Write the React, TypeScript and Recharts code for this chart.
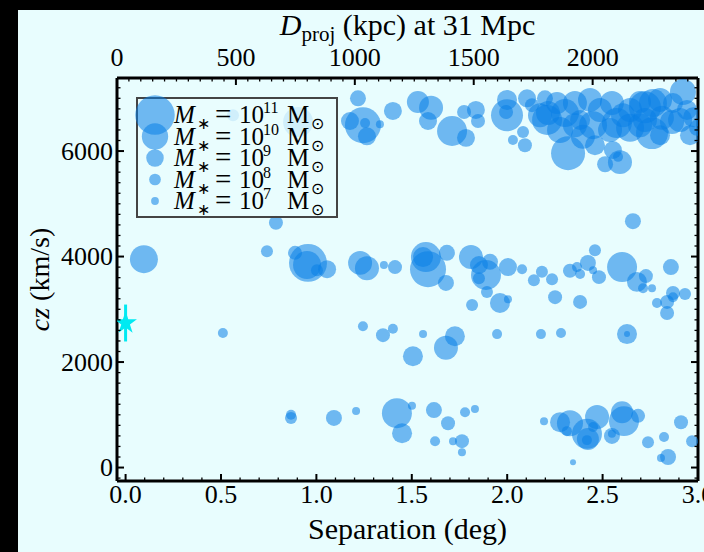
import React from 'react';
import { ScatterChart, Scatter, XAxis, YAxis, ErrorBar, ReferenceLine, Legend, Symbols } from 'recharts';

// [separation (deg), cz (km/s), log10 stellar mass]
const GROUP_7000 = [
  [0.563, 6680, 8.06], [0.904, 6550, 10.32], [1.218, 7000, 8.77], [1.244, 6490, 10.77], [1.176, 6570, 9.06],
  [1.255, 6530, 7.61], [1.265, 6280, 9.06], [1.333, 6510, 7.06], [1.401, 6760, 9.06], [1.532, 6930, 9.56],
  [1.601, 6820, 9.77], [1.585, 6570, 9.06], [1.711, 6380, 10.32], [1.784, 6250, 9.06], [1.774, 6740, 8.44],
  [1.836, 6780, 9.06], [1.847, 6570, 8.44], [1.999, 6970, 9.32], [1.999, 6680, 10.48], [1.994, 6740, 8.44],
  [2.104, 7000, 9.06], [2.130, 6870, 8.44], [2.198, 7000, 8.77], [2.030, 6210, 7.61], [2.083, 6360, 8.06],
  [2.093, 6110, 8.44], [2.209, 6590, 10.32], [2.214, 6720, 9.77], [2.261, 6910, 9.56], [2.303, 6720, 10.15],
  [2.355, 6910, 9.77], [2.319, 5960, 10.63], [2.397, 6270, 9.77], [2.450, 6490, 10.15], [2.460, 6110, 9.32],
  [2.486, 6780, 9.77], [2.549, 6910, 9.77], [2.575, 6530, 10.32], [2.607, 6680, 9.77], [2.554, 6020, 9.06],
  [2.513, 5750, 8.77], [2.591, 5790, 9.77], [2.581, 5890, 7.61], [2.696, 6930, 9.56], [2.722, 6830, 10.48],
  [2.764, 6910, 10.15], [2.759, 6340, 10.48], [2.696, 6490, 9.77], [2.811, 6630, 9.77], [2.864, 6550, 9.77],
  [2.921, 7120, 9.97], [2.942, 6780, 9.32], [2.974, 6640, 9.32], [2.869, 6910, 9.32], [2.277, 6400, 9.97],
  [2.644, 6440, 10.15], [2.382, 6590, 9.32], [2.801, 6300, 9.32], [2.995, 6440, 8.77],
  [2.172, 6680, 9.77], [2.434, 6970, 9.77], [2.644, 6780, 9.77], [2.801, 6970, 9.77], [2.958, 6300, 9.32],
  [2.355, 6490, 9.77], [2.539, 6400, 9.77], [2.722, 6590, 9.77], [2.906, 6590, 9.77],
];

const GROUP_4000 = [
  [2.659, 4670, 8.77], [0.788, 4640, 8.44],
  [0.096, 3950, 10.15], [0.741, 4100, 8.06], [0.888, 4070, 8.44], [0.956, 3880, 10.90], [0.951, 3840, 10.15],
  [1.003, 3740, 8.06], [1.056, 3760, 9.06], [1.229, 3880, 9.77], [1.265, 3780, 9.77], [1.354, 3840, 7.06],
  [1.412, 3800, 8.44], [1.574, 3990, 10.32], [1.585, 3760, 10.77], [1.559, 3990, 9.32], [1.684, 4070, 8.77],
  [1.679, 3500, 8.77], [1.810, 3990, 9.77], [1.852, 3840, 9.06], [1.889, 3650, 10.32], [1.910, 3900, 8.77],
  [1.852, 3590, 8.06], [2.004, 3800, 9.06], [2.078, 3760, 7.61], [1.894, 3330, 8.06], [1.816, 3080, 8.06],
  [1.962, 3120, 9.32], [2.004, 3190, 7.06], [2.140, 3550, 8.06], [2.182, 3710, 8.06], [2.235, 3570, 8.06],
  [2.251, 3230, 8.44], [2.329, 3730, 8.44], [2.366, 3800, 7.61], [2.382, 3670, 7.61], [2.423, 3880, 8.77],
  [2.460, 4120, 8.06], [2.450, 3740, 7.06], [2.481, 3610, 8.44], [2.382, 3140, 8.44], [2.602, 3800, 10.32],
  [2.680, 3520, 9.32], [2.727, 3630, 8.44], [2.712, 3400, 7.61], [2.759, 3400, 7.06], [2.858, 3800, 8.77],
  [2.785, 3120, 7.61], [2.838, 3140, 8.44], [2.869, 3310, 8.44], [2.869, 3230, 7.61], [2.838, 2930, 8.44],
  [2.932, 3290, 8.06],
];

const GROUP_2500 = [
  [0.510, 2550, 7.61], [1.244, 2680, 7.61], [1.349, 2510, 8.44], [1.401, 2630, 7.61], [1.559, 2530, 7.06],
  [1.726, 2490, 9.32], [1.679, 2270, 9.77], [1.506, 2110, 9.32], [1.947, 2530, 7.61], [2.177, 2530, 7.61],
  [2.282, 2550, 7.61], [2.628, 2530, 9.32], [2.628, 2530, 6.35],
];

const GROUP_800 = [
  [0.867, 940, 8.06], [0.867, 1000, 7.61], [1.092, 940, 8.77], [1.208, 1070, 7.06], [1.422, 1030, 10.32],
  [1.449, 650, 9.32], [1.501, 1170, 7.06], [1.616, 1090, 8.77], [1.690, 840, 8.44], [1.622, 500, 7.61],
  [1.716, 500, 7.06], [1.763, 500, 8.44], [1.763, 290, 7.06], [1.779, 1050, 7.61], [1.831, 1110, 7.06],
  [2.193, 880, 7.06], [2.277, 860, 9.32], [2.329, 840, 9.97], [2.313, 690, 7.61], [2.418, 640, 10.32],
  [2.423, 540, 9.56], [2.450, 770, 7.61], [2.471, 960, 9.77], [2.418, 520, 7.61], [2.549, 600, 8.77],
  [2.549, 640, 7.06], [2.602, 1050, 9.56], [2.612, 880, 10.32], [2.686, 980, 8.44], [2.738, 480, 8.06],
  [2.822, 580, 7.61], [2.843, 200, 8.77], [2.806, 180, 7.06], [2.911, 860, 8.44], [2.969, 500, 8.06],
  [2.345, 100, 6.35],
];

// the target galaxy
const TARGET_SEP = [0];
const TARGET_CZ = [2740];
const TARGET_CZ_ERR = [350];

const LEGEND_LOG_MASS = [11, 10, 9, 8, 7];

const SEP_MAJOR = [0, 0.5, 1, 1.5, 2, 2.5, 3];
const CZ_MAJOR = [0, 2000, 4000, 6000];
const KPC_MAJOR = [0, 500, 1000, 1500, 2000];

const SEP_TICKS = Array.from({ length: 31 }, (_, i) => i / 10);
const CZ_TICKS = Array.from({ length: 38 }, (_, i) => -200 + i * 200);
const KPC_TICKS = Array.from({ length: 49 }, (_, i) => i * 50);

const X_DOMAIN = [-0.045, 3.0];
const Y_DOMAIN = [-255, 7385];

// top axis: projected distance, zero sits at the left edge of the frame
const KPC_PER_DEG = 802.3;
const kpcToDeg = (kpc: number) => X_DOMAIN[0] + kpc / KPC_PER_DEG;
const degToKpc = (deg: number) => Math.round((deg - X_DOMAIN[0]) * KPC_PER_DEG);
const TOP_TICKS = KPC_TICKS.map(kpcToDeg);

const PLOT_RIGHT = 698;
const BG = '#e8fdfe';
const BUBBLE = '#0a80e6';
const STAR = '#00eaf2';
const FONT = "'Liberation Serif', 'Times New Roman', serif";

const bubbleRadius = (logM: number) => 3.9 * Math.pow(1.5, logM - 7);

const galaxies = [...GROUP_7000, ...GROUP_4000, ...GROUP_2500, ...GROUP_800].map(([sep, cz, logM]) => ({ sep, cz, logM }));
const target = TARGET_SEP.map((sep, i) => ({ sep, cz: TARGET_CZ[i], err: TARGET_CZ_ERR[i] }));

const isMajor = (v: number, list: number[]) => list.some((m) => Math.abs(m - v) < 1e-6);

const Bubble = (props: any) => (
  <circle cx={props.cx} cy={props.cy} r={bubbleRadius(props.payload.logM)} fill={BUBBLE} fillOpacity={0.55} />
);

const TargetStar = (props: any) => <Symbols cx={props.cx} cy={props.cy} type="star" size={160} fill={STAR} />;

const LeftTick = ({ x, y, payload }: any) => {
  const major = isMajor(payload.value, CZ_MAJOR);
  const len = major ? 7 : 3.5;
  return (
    <g>
      <line x1={x} y1={y} x2={x + len} y2={y} stroke="#000" strokeWidth={major ? 2 : 1.3} />
      <line x1={PLOT_RIGHT - len} y1={y} x2={PLOT_RIGHT} y2={y} stroke="#000" strokeWidth={major ? 2 : 1.3} />
      {major && (
        <text x={x - 4} y={y} textAnchor="end" dominantBaseline="central" fontFamily={FONT} fontSize={26} fill="#000">
          {payload.value}
        </text>
      )}
    </g>
  );
};

const BottomTick = ({ x, y, payload }: any) => {
  const major = isMajor(payload.value, SEP_MAJOR);
  const len = major ? 7 : 3.5;
  return (
    <g>
      <line x1={x} y1={y} x2={x} y2={y - len} stroke="#000" strokeWidth={major ? 2 : 1.3} />
      {major && (
        <text x={x} y={y + 22} textAnchor="middle" fontFamily={FONT} fontSize={26} fill="#000">
          {payload.value.toFixed(1)}
        </text>
      )}
    </g>
  );
};

const TopTick = ({ x, y, payload }: any) => {
  const kpc = degToKpc(payload.value);
  const major = isMajor(kpc, KPC_MAJOR);
  const len = major ? 7 : 3.5;
  return (
    <g>
      <line x1={x} y1={y} x2={x} y2={y + len} stroke="#000" strokeWidth={major ? 2 : 1.3} />
      {major && (
        <text x={x} y={y - 12} textAnchor="middle" fontFamily={FONT} fontSize={26} fill="#000">
          {kpc}
        </text>
      )}
    </g>
  );
};

const BottomLabel = ({ viewBox }: any) => (
  <text x={viewBox.x + viewBox.width / 2} y={viewBox.y + 58} textAnchor="middle" fontFamily={FONT} fontSize={30} fill="#000">
    Separation (deg)
  </text>
);

const TopLabel = ({ viewBox }: any) => (
  <text x={viewBox.x + viewBox.width / 2} y={35} textAnchor="middle" fontFamily={FONT} fontSize={30} fill="#000">
    <tspan fontStyle="italic">D</tspan>
    <tspan fontSize={21} dy={6}>proj</tspan>
    <tspan dy={-6}> (kpc) at 31 Mpc</tspan>
  </text>
);

const LeftLabel = ({ viewBox }: any) => {
  const cy = viewBox.y + viewBox.height / 2;
  return (
    <text x={49} y={cy} transform={`rotate(-90 49 ${cy})`} textAnchor="middle" fontFamily={FONT} fontSize={28} fill="#000">
      <tspan fontStyle="italic">cz</tspan> (km/s)
    </text>
  );
};

const MassLegend = () => (
  <svg width={202} height={121} style={{ overflow: 'visible', display: 'block' }}>
    <rect x={1} y={1} width={200} height={119} fill={BG} fillOpacity={0.8} stroke="#444" strokeWidth={2} />
    {LEGEND_LOG_MASS.map((m, i) => {
      const cy = 18 + i * 21.5;
      const base = cy + 8;
      return (
        <g key={m}>
          <circle cx={19} cy={cy} r={bubbleRadius(m)} fill={BUBBLE} fillOpacity={0.55} />
          <text y={base} fontFamily={FONT} fontSize={25} fill="#000">
            <tspan x={38} fontStyle="italic">M</tspan>
            <tspan x={61} y={base + 6} fontSize={16}>∗</tspan>
            <tspan x={79} y={base + 1} fontSize={29}>=</tspan>
            <tspan x={103} y={base}>10</tspan>
            <tspan x={127} y={base - 10} fontSize={16}>{m}</tspan>
            <tspan x={151} y={base}>M</tspan>
            <tspan x={175} y={base + 6} fontSize={16}>⊙</tspan>
          </text>
        </g>
      );
    })}
  </svg>
);

export default function App() {
  return (
    <div style={{ position: 'absolute', left: 0, top: 0, width: 704, height: 552, background: '#000', overflow: 'hidden' }}>
      <div style={{ position: 'absolute', left: 18, top: 10, right: 0, bottom: 0, background: BG }} />
      <div style={{ position: 'absolute', left: 0, top: 0 }}>
        <ScatterChart width={704} height={552} margin={{ top: 0, right: 6, bottom: 0, left: 0 }}>
          <XAxis
            xAxisId="sep"
            type="number"
            dataKey="sep"
            domain={X_DOMAIN}
            allowDataOverflow
            ticks={SEP_TICKS}
            interval={0}
            tick={<BottomTick />}
            tickLine={false}
            tickSize={0}
            tickMargin={0}
            axisLine={{ stroke: '#000', strokeWidth: 3 }}
            height={71}
            label={{ content: <BottomLabel /> }}
          />
          <XAxis
            xAxisId="top"
            orientation="top"
            type="number"
            dataKey="sep"
            domain={X_DOMAIN}
            allowDataOverflow
            ticks={TOP_TICKS}
            interval={0}
            tick={<TopTick />}
            tickLine={false}
            tickSize={0}
            tickMargin={0}
            axisLine={{ stroke: '#000', strokeWidth: 3 }}
            height={78}
            label={{ content: <TopLabel /> }}
          />
          <YAxis
            yAxisId="cz"
            type="number"
            dataKey="cz"
            domain={Y_DOMAIN}
            allowDataOverflow
            ticks={CZ_TICKS}
            interval={0}
            tick={<LeftTick />}
            tickLine={false}
            tickSize={0}
            tickMargin={0}
            axisLine={{ stroke: '#000', strokeWidth: 3 }}
            width={117}
            label={{ content: <LeftLabel /> }}
          />
          <ReferenceLine xAxisId="sep" yAxisId="cz" x={X_DOMAIN[1]} stroke="#000" strokeWidth={3} />
          <Scatter xAxisId="sep" yAxisId="cz" data={galaxies} shape={Bubble} isAnimationActive={false} />
          <Scatter xAxisId="top" yAxisId="cz" data={target} shape={TargetStar} isAnimationActive={false}>
            <ErrorBar dataKey="err" direction="y" width={0} stroke={STAR} strokeWidth={3} isAnimationActive={false} />
          </Scatter>
          <Legend
            content={<MassLegend />}
            layout="horizontal"
            verticalAlign="middle"
            align="center"
            wrapperStyle={{ left: 136, top: 97, width: 202, height: 121 }}
          />
        </ScatterChart>
      </div>
    </div>
  );
}
